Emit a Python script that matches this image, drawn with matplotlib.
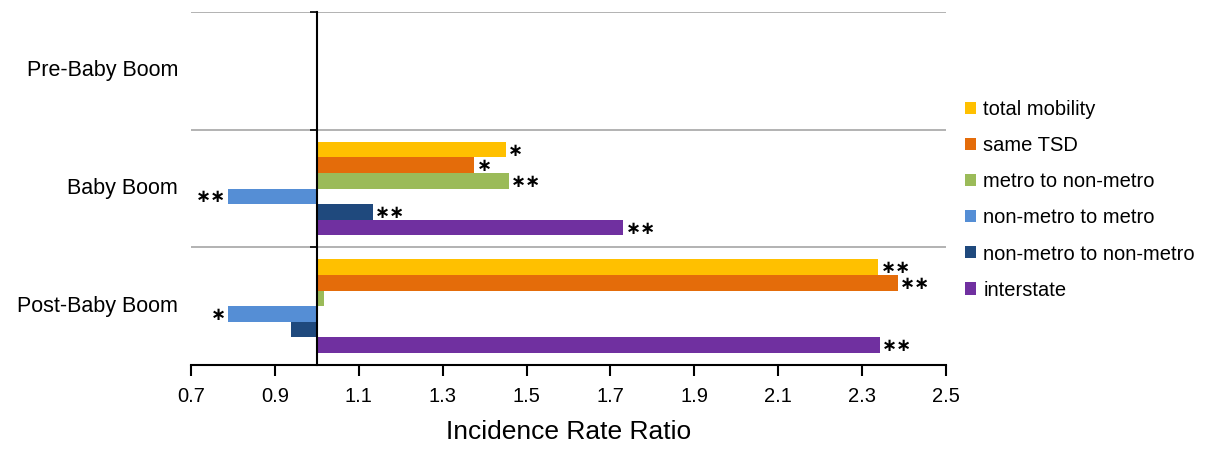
import numpy as np
import matplotlib.pyplot as plt
from matplotlib.patches import Patch
import matplotlib.transforms as mtransforms

plt.rcParams['font.family'] = ['Liberation Sans', 'DejaVu Sans']

groups = ['Pre-Baby Boom', 'Baby Boom', 'Post-Baby Boom']
series = ['total mobility', 'same TSD', 'metro to non-metro',
          'non-metro to metro', 'non-metro to non-metro', 'interstate']
colors = ['#FFC000', '#E46C0A', '#9BBB59', '#558ED5', '#1F497D', '#7030A0']

total_mobility = [np.nan, 1.450, 2.338]
same_tsd = [np.nan, 1.375, 2.385]
metro_to_nonmetro = [np.nan, 1.457, 1.018]
nonmetro_to_metro = [np.nan, 0.789, 0.789]
nonmetro_to_nonmetro = [np.nan, 1.133, 0.938]
interstate = [np.nan, 1.731, 2.342]

stars_total = ['', '*', '**']
stars_tsd = ['', '*', '**']
stars_m2n = ['', '**', '']
stars_n2m = ['', '**', '*']
stars_n2n = ['', '**', '']
stars_inter = ['', '**', '**']

values = [total_mobility, same_tsd, metro_to_nonmetro,
          nonmetro_to_metro, nonmetro_to_nonmetro, interstate]
stars = [stars_total, stars_tsd, stars_m2n, stars_n2m, stars_n2n, stars_inter]

base = 1.0
xticks = [0.7, 0.9, 1.1, 1.3, 1.5, 1.7, 1.9, 2.1, 2.3, 2.5]

fig = plt.figure(figsize=(12.3, 4.49), dpi=100)
ax = fig.add_axes([191/1230, 1 - 365/449, 755/1230, 353/449])

n = len(series)
h = 0.795 / n
y = np.arange(len(groups))
for i, (name, vals, st, c) in enumerate(zip(series, values, stars, colors)):
    yy = y + (i - (n - 1) / 2) * h
    vals = np.array(vals, dtype=float)
    ax.barh(yy, vals - base, left=base, height=h, color=c, label=name,
            edgecolor='none')
    for yv, v, s in zip(yy, vals, st):
        if np.isnan(v) or not s:
            continue
        mark = s.replace('*', '\u2217')
        if v >= base:
            ax.text(v + 0.006, yv + 0.01, mark, ha='left', va='center',
                    fontsize=13, fontweight='bold', color='black',
                    family='DejaVu Sans')
        else:
            ax.text(v - 0.006, yv + 0.01, mark, ha='right', va='center',
                    fontsize=13, fontweight='bold', color='black',
                    family='DejaVu Sans')

ax.set_xlim(0.7, 2.5)
ax.set_ylim(2.5, -0.5)

# category axis crosses at 1.0
ax.spines['left'].set_position(('data', base))
ax.spines['left'].set_linewidth(1.5)
ax.spines['left'].set_zorder(5)
ax.spines['right'].set_visible(False)
ax.spines['top'].set_visible(False)
ax.spines['bottom'].set_linewidth(1.5)
ax.set_yticks([-0.5, 0.5, 1.5, 2.5])
ax.set_yticklabels([])
ax.tick_params(axis='y', direction='out', length=5, width=1.2)
ax.yaxis.grid(True, color='#A6A6A6', linewidth=1.2)
ax.set_axisbelow(True)

trans = mtransforms.blended_transform_factory(ax.transAxes, ax.transData)
for yv, g in zip(y, groups):
    ax.text(-0.017, yv, g, transform=trans, ha='right', va='center',
            fontsize=15.5)

ax.set_xticks(xticks)
ax.set_xticklabels([f'{t:.1f}' for t in xticks], fontsize=14.5)
ax.tick_params(axis='x', direction='out', length=8, width=1.5, pad=8)
ax.set_xlabel('Incidence Rate Ratio', fontsize=19, labelpad=10)

handles = [Patch(facecolor=c, label=s) for s, c in zip(series, colors)]
fig.legend(handles=handles, loc='upper left', bbox_to_anchor=(957/1230, 1 - 92/449),
           frameon=False, fontsize=14.5, handlelength=0.55, handleheight=0.55,
           handletextpad=0.35, labelspacing=0.85, borderaxespad=0)

fig.savefig('out.png', dpi=100)
